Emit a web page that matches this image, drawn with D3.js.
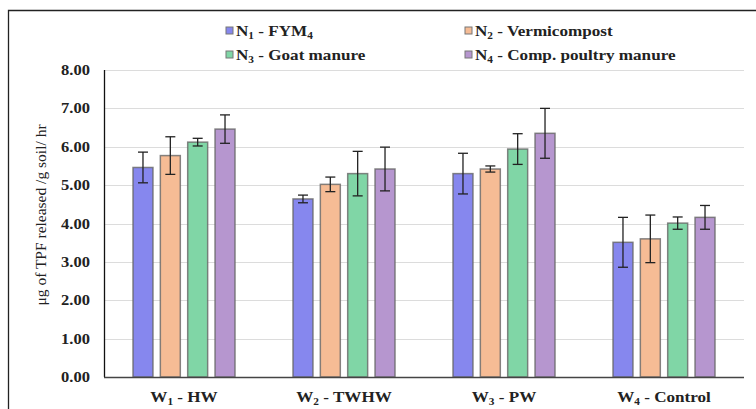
<!DOCTYPE html>
<html>
<head>
<meta charset="utf-8">
<script src="https://cdn.jsdelivr.net/npm/d3@7"></script>
<style>
body{margin:0;background:#fff;}
svg text{font-family:"Liberation Serif","Times New Roman",serif;}
</style>
</head>
<body>
<svg id="vis" width="756" height="409"></svg>
<script>
// groups along the x axis (main text, subscript, rest)
var groups = [["W","1"," - HW"],["W","2"," - TWHW"],["W","3"," - PW"],["W","4"," - Control"]];
// series (legend)
var seriesNames = [
	[["N","1"," - FYM"],["","4",""]],
	[["N","2"," - Vermicompost"]],
	[["N","3"," - Goat manure"]],
	[["N","4"," - Comp. poultry manure"]]
];
var seriesColors = ["#8687ee","#f6bc95","#80d6a6","#b696cf"];
// means per series, one per group
var n1 = [5.46, 4.64, 5.30, 3.51];
var n2 = [5.77, 5.02, 5.42, 3.60];
var n3 = [6.12, 5.30, 5.94, 4.01];
var n4 = [6.46, 5.42, 6.35, 4.16];
// error half-widths
var e1 = [0.40, 0.10, 0.53, 0.65];
var e2 = [0.49, 0.19, 0.08, 0.62];
var e3 = [0.10, 0.58, 0.40, 0.16];
var e4 = [0.37, 0.57, 0.65, 0.31];
var yTicks = [0,1,2,3,4,5,6,7,8];

(function(){
	var means = [n1,n2,n3,n4], errs = [e1,e2,e3,e4];
	var sx = 1.18; // text in the original is stretched sideways

	var svg = d3.select('#vis');
	var pl = 104, pr = 744, pt = 70, pb = 377;

	// outer frame (top and left edges visible)
	svg.append('path')
		.attr('d','M8.5,409 L8.5,10.5 L756,10.5')
		.attr('fill','none').attr('stroke','#222').attr('stroke-width',1.3);

	var x0 = d3.scaleBand().domain(d3.range(groups.length)).range([pl,pr]);
	var x1 = d3.scaleBand().domain(d3.range(4)).range([29,131]).paddingInner(0.27);
	var y = d3.scaleLinear().domain([0,8]).range([pb,pt]);

	// gridlines
	svg.append('g').selectAll('line').data(yTicks.slice(1)).enter().append('line')
		.attr('x1',pl).attr('x2',pr)
		.attr('y1',function(d){ return Math.round(y(d))+0.5; })
		.attr('y2',function(d){ return Math.round(y(d))+0.5; })
		.attr('stroke','#dcdcdc').attr('stroke-width',1.2);

	// y tick labels
	svg.append('g').selectAll('text').data(yTicks).enter().append('text')
		.attr('transform',function(d){ return 'translate(90,'+(y(d)+5)+') scale('+sx+',1)'; })
		.attr('text-anchor','end').attr('font-size',14).attr('font-weight','bold').attr('fill','#222')
		.text(function(d){ return d3.format('.2f')(d); });

	// bars
	var gs = svg.append('g').selectAll('g').data(groups).enter().append('g')
		.attr('transform',function(d,i){ return 'translate('+x0(i)+',0)'; });
	gs.each(function(d,gi){
		var g = d3.select(this);
		var rows = means.map(function(m,si){ return {si:si, v:m[gi], e:errs[si][gi]}; });
		g.selectAll('rect').data(rows).enter().append('rect')
			.attr('x',function(r){ return x1(r.si); })
			.attr('width',x1.bandwidth())
			.attr('y',function(r){ return y(r.v); })
			.attr('height',function(r){ return y(0)-y(r.v); })
			.attr('fill',function(r){ return seriesColors[r.si]; })
			.attr('stroke','#666').attr('stroke-opacity',0.8).attr('stroke-width',1.5);
		var eb = g.selectAll('g.err').data(rows).enter().append('g').attr('class','err')
			.attr('stroke','#222').attr('stroke-width',1.3);
		eb.append('line')
			.attr('x1',function(r){ return x1(r.si)+x1.bandwidth()/2; })
			.attr('x2',function(r){ return x1(r.si)+x1.bandwidth()/2; })
			.attr('y1',function(r){ return y(r.v+r.e); })
			.attr('y2',function(r){ return y(r.v-r.e); });
		[1,-1].forEach(function(s){
			eb.append('line')
				.attr('x1',function(r){ return x1(r.si)+x1.bandwidth()/2-5; })
				.attr('x2',function(r){ return x1(r.si)+x1.bandwidth()/2+5; })
				.attr('y1',function(r){ return y(r.v+s*r.e); })
				.attr('y2',function(r){ return y(r.v+s*r.e); });
		});
	});

	// axis lines
	svg.append('line').attr('x1',pl+0.5).attr('x2',pl+0.5).attr('y1',pt).attr('y2',pb)
		.attr('stroke','#111').attr('stroke-width',1.3);
	svg.append('line').attr('x1',pl).attr('x2',pr).attr('y1',pb+0.5).attr('y2',pb+0.5)
		.attr('stroke','#444').attr('stroke-width',1.3);

	function subText(sel,parts,size){
		parts.forEach(function(p){
			if(p[0]) sel.append('tspan').text(p[0]);
			sel.append('tspan').attr('font-size',size*0.66).attr('dy',3).text(p[1]);
			sel.append('tspan').attr('dy',-3).text(p[2]);
		});
	}

	// x labels
	svg.append('g').selectAll('text').data(groups).enter().append('text')
		.attr('transform',function(d,i){ return 'translate('+(x0(i)+x0.bandwidth()/2)+',402) scale('+sx+',1)'; })
		.attr('text-anchor','middle')
		.attr('font-size',14.5).attr('font-weight','bold').attr('fill','#222')
		.each(function(d){ subText(d3.select(this),[d],14.5); });

	// y title
	svg.append('text')
		.attr('transform','translate(46,215) rotate(-90)')
		.attr('text-anchor','middle').attr('font-size',15.5).attr('fill','#222')
		.text('\u03bcg of TPF released /g soil/ hr');

	// legend
	var legPos = [[226,31],[465,31],[226,55],[465,55]];
	var leg = svg.append('g').selectAll('g').data(seriesNames).enter().append('g')
		.attr('transform',function(d,i){ return 'translate('+legPos[i][0]+','+legPos[i][1]+')'; });
	leg.append('rect').attr('x',0).attr('y',-4).attr('width',7).attr('height',7)
		.attr('fill',function(d,i){ return seriesColors[i]; })
		.attr('stroke','#777').attr('stroke-width',1);
	leg.append('text').attr('transform','translate(10,5) scale('+sx+',1)')
		.attr('font-size',14.5).attr('font-weight','bold').attr('fill','#222')
		.each(function(d){ subText(d3.select(this),d,14.5); });
})();
</script>
</body>
</html>
